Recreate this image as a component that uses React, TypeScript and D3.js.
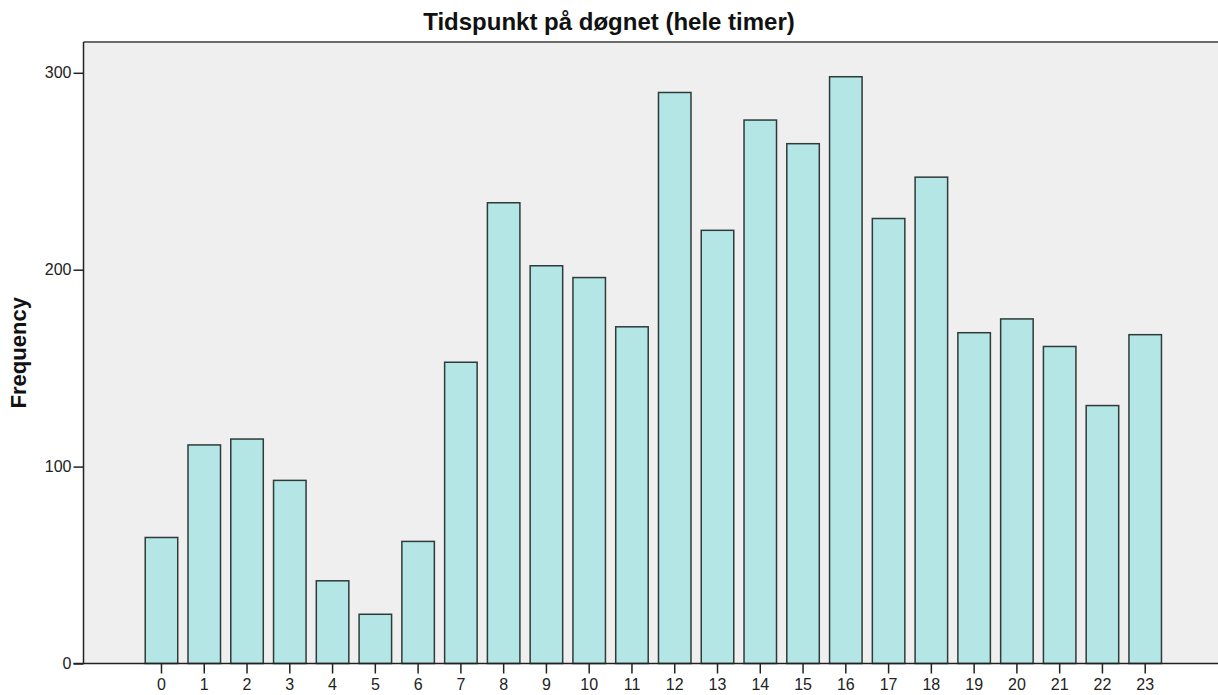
import React, { useEffect, useRef } from 'react';
import * as d3 from 'd3';

// Timer (0-23) og antall per time
const hours: string[] = [
    '0', '1', '2', '3', '4', '5', '6', '7', '8', '9', '10', '11',
    '12', '13', '14', '15', '16', '17', '18', '19', '20', '21', '22', '23',
];
const counts: number[] = [
    64, 111, 114, 93, 42, 25, 62, 153, 234, 202, 196, 171,
    290, 220, 276, 264, 298, 226, 247, 168, 175, 161, 131, 167,
];
const yTicks: number[] = [0, 100, 200, 300];

const title = 'Tidspunkt på døgnet (hele timer)';
const yLabel = 'Frequency';

export default function App() {
    const ref = useRef<SVGSVGElement>(null);

    useEffect(() => {
        const width = 1218;
        const height = 695;
        const plot = { left: 83.5, top: 42, right: 1218, bottom: 663.5 };

        const svg = d3.select(ref.current)
            .attr('width', width)
            .attr('height', height);
        svg.selectAll('*').remove();

        const font = '"Liberation Sans", Arial, sans-serif';

        // bakgrunn for plottområdet
        svg.append('rect')
            .attr('x', plot.left)
            .attr('y', plot.top)
            .attr('width', plot.right - plot.left)
            .attr('height', plot.bottom - plot.top)
            .attr('fill', '#efefef');

        // øvre kant
        svg.append('line')
            .attr('x1', plot.left).attr('x2', plot.right)
            .attr('y1', plot.top).attr('y2', plot.top)
            .attr('stroke', '#6a6a6a')
            .attr('stroke-width', 2);

        const xScale = d3.scaleBand<string>()
            .domain(hours)
            .range([140.1, 1166.6])
            .paddingInner(0.24)
            .paddingOuter(0.12);

        const yScale = d3.scaleLinear()
            .domain([0, 300])
            .range([plot.bottom, plot.bottom - 590.7]);

        // stolper
        svg.append('g')
            .selectAll('rect')
            .data(counts)
            .enter()
            .append('rect')
            .attr('x', (d, i) => xScale(hours[i])!)
            .attr('y', d => yScale(d))
            .attr('width', xScale.bandwidth())
            .attr('height', d => yScale(0) - yScale(d))
            .attr('fill', '#b4e6e6')
            .attr('stroke', '#2f3a3a')
            .attr('stroke-width', 1.5);

        // akser
        const xAxis = d3.axisBottom(xScale).tickSize(10).tickSizeOuter(0).tickPadding(5);
        const yAxis = d3.axisLeft(yScale).tickValues(yTicks).tickSize(10).tickSizeOuter(0).tickPadding(2);

        const gx = svg.append('g')
            .attr('transform', `translate(0,${plot.bottom})`)
            .call(xAxis);
        gx.select('.domain').remove();
        gx.selectAll('line').attr('stroke', '#222').attr('stroke-width', 1.5);
        gx.selectAll('text')
            .attr('fill', '#222')
            .style('font-family', font)
            .style('font-size', '16px');

        svg.append('line')
            .attr('x1', plot.left - 10).attr('x2', plot.right)
            .attr('y1', plot.bottom).attr('y2', plot.bottom)
            .attr('stroke', '#222')
            .attr('stroke-width', 1.5);

        const gy = svg.append('g')
            .attr('transform', `translate(${plot.left},0)`)
            .call(yAxis);
        gy.select('.domain').remove();
        gy.selectAll('line').attr('stroke', '#222').attr('stroke-width', 1.5);
        gy.selectAll('text')
            .attr('fill', '#222')
            .style('font-family', font)
            .style('font-size', '16px');

        svg.append('line')
            .attr('x1', plot.left).attr('x2', plot.left)
            .attr('y1', plot.top).attr('y2', plot.bottom)
            .attr('stroke', '#222')
            .attr('stroke-width', 1.5);

        // tittel
        svg.append('text')
            .attr('x', 609)
            .attr('y', 30)
            .attr('text-anchor', 'middle')
            .style('font-family', font)
            .style('font-weight', 'bold')
            .style('font-size', '24px')
            .attr('fill', '#111')
            .text(title);

        // y-aksetittel
        svg.append('text')
            .attr('transform', `translate(26,${(plot.top + plot.bottom) / 2}) rotate(-90)`)
            .attr('text-anchor', 'middle')
            .style('font-family', font)
            .style('font-weight', 'bold')
            .style('font-size', '22px')
            .attr('fill', '#111')
            .text(yLabel);
    }, []);

    return (
        <div>
            <svg ref={ref} style={{ position: 'absolute', left: 0, top: 0 }} />
        </div>
    );
}
